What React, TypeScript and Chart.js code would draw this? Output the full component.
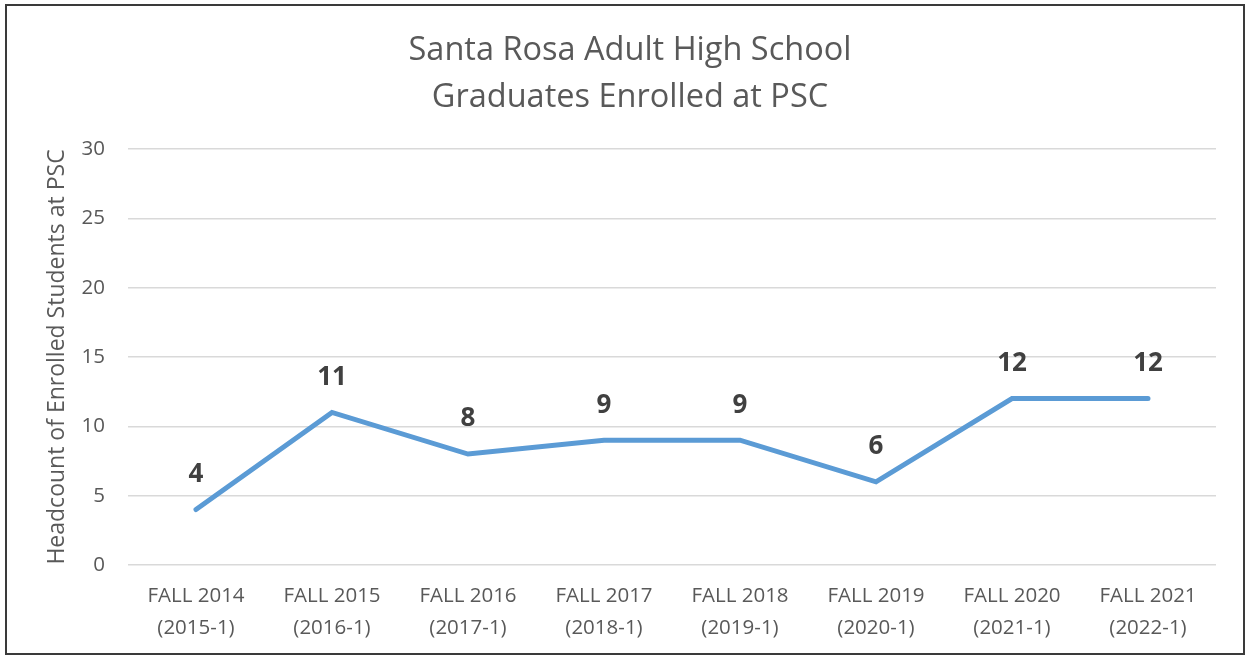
import React, { useEffect, useRef } from "react";
import { Chart, registerables } from "chart.js";

Chart.register(...registerables);

const titleLines = ["Santa Rosa Adult High School", "Graduates Enrolled at PSC"];
const yAxisTitle = "Headcount of Enrolled Students at PSC";
const terms = ["FALL 2014", "FALL 2015", "FALL 2016", "FALL 2017", "FALL 2018", "FALL 2019", "FALL 2020", "FALL 2021"];
const cohorts = ["(2015-1)", "(2016-1)", "(2017-1)", "(2018-1)", "(2019-1)", "(2020-1)", "(2021-1)", "(2022-1)"];
const headcounts = [4, 11, 8, 9, 9, 6, 12, 12];
const yTicks = [0, 5, 10, 15, 20, 25, 30];

const FONT = "'Open Sans', 'Liberation Sans', sans-serif";
const GRAY = "#595959";

const frameAndLabels = {
  id: "frameAndLabels",
  beforeDraw(chart: any) {
    const ctx = chart.ctx;
    ctx.save();
    ctx.fillStyle = "#ffffff";
    ctx.fillRect(0, 0, chart.width, chart.height);
    ctx.restore();
  },
  afterDraw(chart: any) {
    const ctx = chart.ctx;
    ctx.save();
    ctx.strokeStyle = "#3a3a3a";
    ctx.lineWidth = 2;
    ctx.strokeRect(6, 5, 1238, 649);
    ctx.restore();
  },
  afterDatasetsDraw(chart: any) {
    const ctx = chart.ctx;
    const meta = chart.getDatasetMeta(0);
    const data = chart.data.datasets[0].data;
    ctx.save();
    ctx.font = `bold 26px ${FONT}`;
    ctx.fillStyle = "#404040";
    ctx.textAlign = "center";
    ctx.textBaseline = "middle";
    meta.data.forEach((pt: any, i: number) => {
      ctx.fillText(String(data[i]), pt.x, pt.y - 35);
    });
    ctx.restore();
  },
};

export default function App() {
  const ref = useRef<HTMLCanvasElement | null>(null);

  useEffect(() => {
    document.body.style.margin = "0";
    const canvas = ref.current;
    if (!canvas) return;
    const chart = new Chart(canvas, {
      type: "line",
      data: {
        labels: terms.map((t, i) => [t, cohorts[i]]),
        datasets: [
          {
            data: headcounts,
            borderColor: "#5b9bd5",
            borderWidth: 5,
            pointRadius: 0,
            tension: 0,
            borderCapStyle: "round",
            borderJoinStyle: "miter",
            fill: false,
          },
        ],
      },
      options: {
        animation: false,
        responsive: false,
        maintainAspectRatio: false,
        layout: { padding: { left: 44, right: 32, top: 7, bottom: 0 } },
        plugins: {
          legend: { display: false },
          tooltip: { enabled: false },
          title: {
            display: true,
            text: titleLines,
            color: GRAY,
            font: { family: FONT, size: 32.5, weight: "normal", lineHeight: 1.446 },
            padding: { top: 20, bottom: 28 },
          },
        },
        scales: {
          x: {
            offset: true,
            grid: { display: false },
            border: { display: false },
            ticks: {
              color: GRAY,
              font: { family: FONT, size: 20.5, lineHeight: 1.56 },
              padding: 7,
              maxRotation: 0,
              autoSkip: false,
            },
            afterFit(scale: any) {
              scale.height = 91;
            },
          },
          y: {
            min: 0,
            max: 30,
            afterBuildTicks(scale: any) {
              scale.ticks = yTicks.map((v) => ({ value: v }));
            },
            grid: { color: "#d9d9d9", lineWidth: 1.5, drawTicks: false },
            border: { display: false },
            ticks: {
              color: GRAY,
              font: { family: FONT, size: 20.5 },
              padding: 23,
            },
            title: {
              display: true,
              text: yAxisTitle,
              color: GRAY,
              font: { family: FONT, size: 23 },
              padding: { top: 0, bottom: 0 },
            },
            afterFit(scale: any) {
              scale.width = 84;
            },
          },
        },
      },
      plugins: [frameAndLabels],
    });
    return () => chart.destroy();
  }, []);

  return (
    <div style={{ width: 1248, height: 656 }}>
      <canvas ref={ref} width={1248} height={656} style={{ display: "block" }} />
    </div>
  );
}
